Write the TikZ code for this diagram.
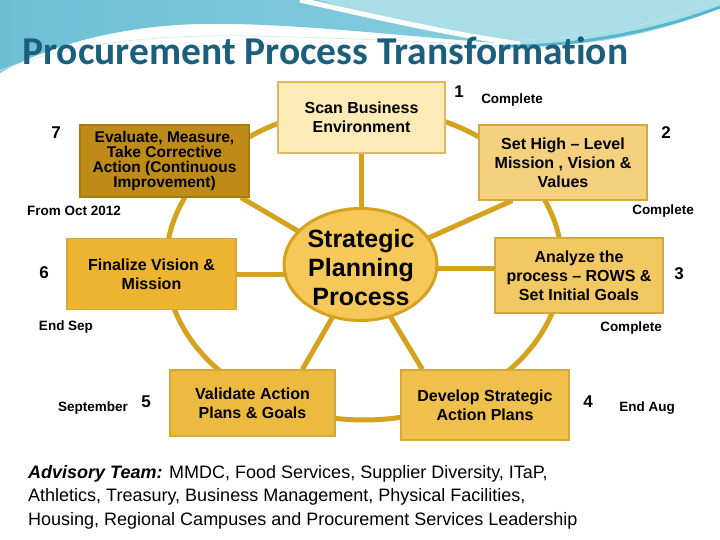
\documentclass[tikz,border=0pt]{standalone}
\usepackage{fontspec}
\setmainfont{Liberation Sans}
\newfontfamily\titlefont[Ligatures={NoCommon}]{Carlito}
\usetikzlibrary{calc,backgrounds}
\definecolor{bannerL}{HTML}{6CC0D6}
\definecolor{bannerR}{HTML}{8FD2E0}
\definecolor{bannerLight}{HTML}{A9DEE7}
\definecolor{swoosh}{HTML}{55B8D0}
\definecolor{titlecol}{HTML}{1B5F7C}
\definecolor{ringcol}{HTML}{D4A21C}
\definecolor{centerfill}{HTML}{F6C85A}
\definecolor{boxline}{HTML}{D6A73C}
\definecolor{cA}{HTML}{FCEBB6}
\definecolor{cB}{HTML}{F5D07E}
\definecolor{cC}{HTML}{F2C862}
\definecolor{cD}{HTML}{EFC04C}
\definecolor{cE}{HTML}{EDBA40}
\definecolor{cF}{HTML}{EDB431}
\definecolor{cG}{HTML}{BE8A18}
\definecolor{cGline}{HTML}{A87A10}
\tikzset{
  pbox/.style={rectangle, draw=boxline, line width=1.2pt, align=center, inner sep=2pt,
    font=\fontsize{16}{19}\selectfont\bfseries},
  spoke/.style={draw=ringcol, line width=5pt},
  numlbl/.style={font=\fontsize{17}{20}\selectfont\bfseries, inner sep=1pt},
  stlbl/.style={font=\fontsize{13.5}{16}\selectfont\bfseries, inner sep=2pt},
}
\begin{document}
\begin{tikzpicture}[x=1pt,y=-1pt]
\useasboundingbox (0,0) rectangle (720,540);
% boxes
\node[pbox, fill=cA, draw=boxline!80, minimum width=167pt, minimum height=71pt] (b1) at (361.5,117.5) {Scan Business\\Environment};
\node[pbox, fill=cB, minimum width=168pt, minimum height=75pt] (b2) at (563,162.5) {Set High -- Level\\Mission , Vision \&\\Values};
\node[pbox, fill=cC, minimum width=168pt, minimum height=75pt] (b3) at (579,275.5) {Analyze the\\process -- ROWS \&\\Set Initial Goals};
\node[pbox, fill=cD, minimum width=168pt, minimum height=70pt] (b4) at (485,405) {Develop Strategic\\Action Plans};
\node[pbox, fill=cE, minimum width=165pt, minimum height=66pt] (b5) at (252.5,403) {Validate Action\\Plans \& Goals};
\node[pbox, fill=cF, minimum width=169pt, minimum height=71pt] (b6) at (151.5,274) {Finalize Vision \&\\Mission};
\node[pbox, fill=cG, draw=cGline, minimum width=169pt, minimum height=72pt,
  font=\fontsize{15.5}{15}\selectfont\bfseries] (b7) at (164.5,161) {Evaluate, Measure,\\Take Corrective\\Action (Continuous\\Improvement)};
% center
\node[align=center, font=\fontsize{25}{29}\selectfont\bfseries, inner sep=0pt] (c) at (361,268) {Strategic\\Planning\\Process};
% title
\node[anchor=base west, inner sep=0pt, text=titlecol, font=\titlefont\fontsize{39.5}{44}\selectfont\bfseries] (title) at (22,65) {Procurement Process Transformation};
% labels
\node[numlbl] (n1) at (459,92) {1};
\node[stlbl] (s1) at (512,100) {Complete};
\node[numlbl] (n2) at (666,133) {2};
\node[stlbl] (s2) at (663,211) {Complete};
\node[numlbl] (n3) at (679,274) {3};
\node[stlbl, fill=white] (s3) at (631,328) {Complete};
\node[numlbl] (n4) at (588,402) {4};
\node[stlbl] (s4) at (647,408) {End Aug};
\node[numlbl] (n5) at (146,402) {5};
\node[stlbl, fill=white] (s5) at (93,408) {September};
\node[numlbl] (n6) at (44,273) {6};
\node[stlbl] (s6) at (66,327) {End Sep};
\node[numlbl] (n7) at (56,133) {7};
\node[stlbl] (s7) at (74,211) {From Oct 2012};
% advisory text
\node[anchor=north west, align=left, inner sep=0pt, font=\fontsize{18}{23.5}\selectfont] (adv) at (28,465)
 {{\bfseries\itshape Advisory Team:} MMDC, Food Services, Supplier Diversity, ITaP,\\
  Athletics, Treasury, Business Management, Physical Facilities,\\
  Housing, Regional Campuses and Procurement Services Leadership};
\begin{scope}[on background layer]
  \fill[white] (0,0) rectangle (720,540);
  \shade[left color=bannerL, right color=bannerR] (0,0) -- (720,0) -- (720,8)
    .. controls (660,32) and (600,46) .. (530,45)
    .. controls (430,40) and (300,22) .. (200,24)
    .. controls (110,26) and (40,50) .. (0,73) -- cycle;
  \fill[bannerLight] (318,0) .. controls (390,20) and (460,37) .. (530,45)
    .. controls (600,46) and (660,32) .. (720,8) -- (720,0) -- cycle;
  \draw[white, line width=5pt] (300,0) .. controls (380,18) and (450,34) .. (520,44);
  \draw[swoosh, line width=3pt] (500,46) .. controls (580,47) and (660,30) .. (720,7);
  \draw[white!60!swoosh, line width=0.6pt] (520,40) .. controls (600,38) and (670,20) .. (720,0);
  \draw[white!70!bannerL, line width=0.8pt] (0,71) .. controls (60,45) and (150,34) .. (250,36)
    .. controls (350,38) and (430,42) .. (500,46);
  % ring
  \draw[ringcol, line width=5pt] (364,264) ellipse [x radius=198, y radius=156];
  % spokes
  \draw[spoke] (c.center -| b1.south) -- (b1.south);
  \draw[spoke] (c.center) -- ($(b2.south west)!0.2!(b2.south east)$);
  \draw[spoke] (c.center) -- (c.center -| b3.west);
  \draw[spoke] (c.center) -- ($(b4.north west)!0.13!(b4.north east)$);
  \draw[spoke] (c.center) -- ($(b5.north west)!0.8!(b5.north east)$);
  \draw[spoke] (b6.east -| c.center) -- (b6.east);
  \draw[spoke] (c.center) -- ($(b7.south west)!0.95!(b7.south east)$);
  % center ellipse
  \draw[draw=ringcol, fill=centerfill, line width=3pt] (360.5,264.5) ellipse [x radius=76.5, y radius=56];
\end{scope}
\end{tikzpicture}
\end{document}
